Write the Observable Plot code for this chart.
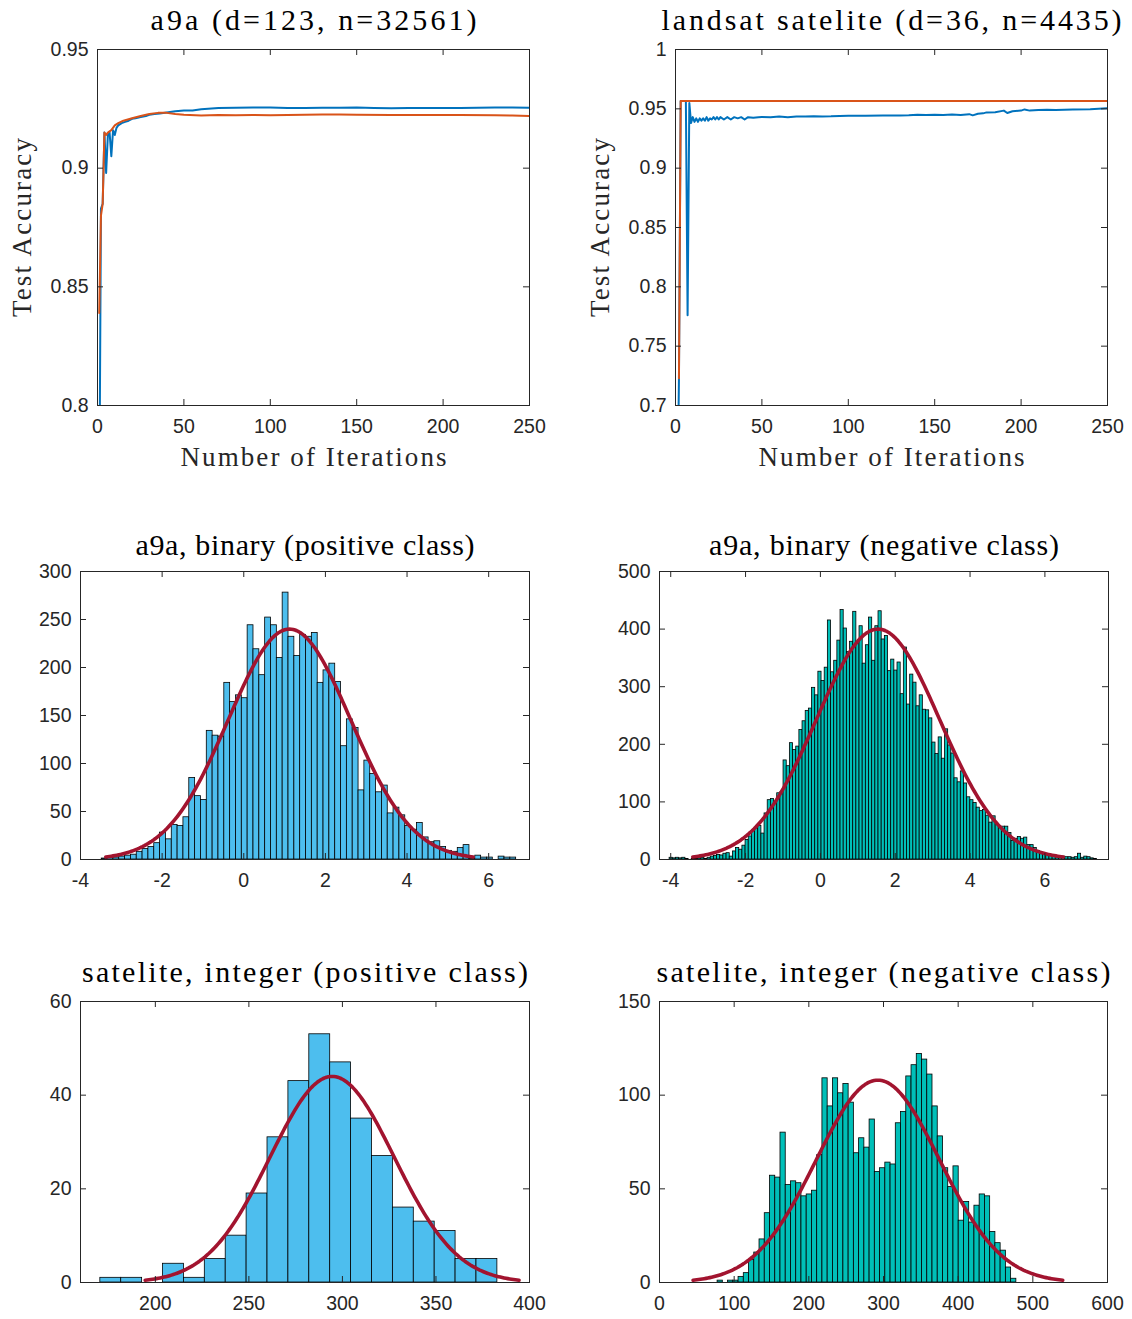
<!DOCTYPE html>
<html><head><meta charset="utf-8">
<script src="https://cdn.jsdelivr.net/npm/d3@7"></script>
<script src="https://cdn.jsdelivr.net/npm/@observablehq/plot@0.6"></script>
<style>
body{margin:0;background:#fff;}
#root{position:relative;width:1132px;height:1319px;background:#fff;overflow:hidden;}
.panel{position:absolute;}
.panel svg{overflow:visible;}
</style></head><body><div id="root"></div>
<script>
// ---------- DATA ----------
// a9a test accuracy
const a9aBlueIter = [1,2,3,4,5,6,7,8,9,10,11,12,14,16,18,20,22,25,28,30,33,36,40,45,50,55,60,70,80,90,100,110,120,130,140,150,160,170,180,190,200,210,220,230,240,250];
const a9aBlueAcc  = [0.75,0.883,0.885,0.915,0.898,0.914,0.915,0.905,0.916,0.914,0.917,0.918,0.919,0.9195,0.920,0.9208,0.921,0.9215,0.922,0.9225,0.9228,0.923,0.9235,0.924,0.9243,0.9243,0.9248,0.9254,0.9255,0.9256,0.9256,0.9254,0.9254,0.9255,0.9255,0.9256,0.9254,0.9252,0.9254,0.9254,0.9254,0.9254,0.9255,0.9256,0.9256,0.9255];
const a9aOrangeIter = [1,2,3,4,5,6,8,10,12,15,20,25,30,35,40,45,50,60,70,80,90,100,110,120,130,140,150,170,190,210,230,240,250];
const a9aOrangeAcc  = [0.839,0.880,0.885,0.915,0.914,0.915,0.916,0.918,0.919,0.920,0.921,0.922,0.9228,0.9233,0.9233,0.9228,0.9225,0.9222,0.9224,0.9223,0.9224,0.9223,0.9224,0.9225,0.9226,0.9226,0.9225,0.9224,0.9224,0.9224,0.9223,0.9222,0.9220];
// landsat test accuracy
const satBlueIter = [1,2,3,4,5,6,7,8,9,10,11,12,13,14,15,16,17,18,19,20,21,22,23,24,25,26,28,30,32,34,36,38,40,42,45,48,50,55,60,65,70,75,80,85,90,95,100,110,120,130,135,140,145,150,155,160,165,170,172,175,178,180,185,190,192,195,200,202,205,210,215,220,230,240,250];
const satBlueAcc  = [0.60,0.723,0.9565,0.9565,0.9565,0.9565,0.776,0.955,0.938,0.943,0.939,0.942,0.939,0.942,0.940,0.942,0.940,0.943,0.940,0.942,0.941,0.943,0.941,0.943,0.941,0.943,0.941,0.943,0.941,0.943,0.942,0.943,0.941,0.943,0.9425,0.943,0.9432,0.943,0.9435,0.943,0.9436,0.9435,0.9437,0.9436,0.9437,0.944,0.9442,0.9442,0.9443,0.9443,0.9445,0.945,0.9447,0.945,0.9448,0.9452,0.9448,0.9455,0.9445,0.9458,0.9462,0.947,0.9472,0.9485,0.9465,0.948,0.9485,0.9495,0.9485,0.949,0.9492,0.949,0.9495,0.9497,0.9505];
const satOrangeIter = [2,3,250];
const satOrangeAcc  = [0.723,0.9565,0.9565];

// histograms: first bin edge, bin width, counts
const a9aPosStart = -3.48, a9aPosWidth = 0.143;
const a9aPosCounts = [1,2,2,3,4,5,8,11,13,17,28,21,36,35,44,85,66,62,134,129,128,184,164,171,168,244,219,192,252,244,210,278,232,212,234,232,236,184,197,204,185,118,146,137,72,103,89,70,77,48,54,46,35,31,38,23,18,19,13,9,8,12,15,1,4,2,2,0,3,2,2];
const a9aNegStart = -4.03, a9aNegWidth = 0.0846;
const a9aNegCounts = [3,2,3,2,3,1,0,1,1,2,3,1,3,5,6,8,7,10,11,5,14,20,17,24,34,40,50,54,58,45,80,103,105,98,115,117,172,162,202,190,196,225,240,258,262,298,285,326,310,333,415,325,345,380,433,401,360,
  378,430,378,405,340,372,420,345,405,431,382,388,327,347,328,342,287,368,269,321,307,266,285,260,259,245,203,183,212,175,226,198,184,141,134,153,132,108,103,98,90,84,86,76,64,75,61,56,57,57,46,32,36,39,36,38,25,25,20,
  15,12,10,8,8,6,5,4,5,4,4,3,4,10,3,5,4,2,1];
const satPosStart = 170.6, satPosWidth = 11.17;
const satPosCounts = [1,1,0,4,1,5,10,19,31,43,53,47,35,27,16,13,11,5,5];
const satNegStart = 77.8, satNegWidth = 7.02;
const satNegCounts = [1,0,1,1,3,5,12,16,23,37,57,56,80,52,54,53,46,47,49,68,109,94,109,101,106,96,69,77,72,87,59,61,64,63,85,91,110,116,122,119,111,94,78,61,51,62,33,43,32,41,47,46,27,21,17,8,2];

// normal fits: [a9a pos, a9a neg, sat pos, sat neg]
const fitMean  = [1.12, 1.54, 294.5, 292.5];
const fitSigma = [1.5, 1.65, 33.3, 82.5];
const fitPeak  = [240, 400, 44, 108];

// tick labels
const iterTicks = [0,50,100,150,200,250];
const a9aAccTicks = [0.8,0.85,0.9,0.95];
const satAccTicks = [0.7,0.75,0.8,0.85,0.9,0.95,1];
const a9aXTicks = [-4,-2,0,2,4,6];
const a9aPosYTicks = [0,50,100,150,200,250,300];
const a9aNegYTicks = [0,100,200,300,400,500];
const satPosXTicks = [200,250,300,350,400];
const satPosYTicks = [0,20,40,60];
const satNegXTicks = [0,100,200,300,400,500,600];
const satNegYTicks = [0,50,100,150];

const titles = ["a9a (d=123, n=32561)", "landsat satelite (d=36, n=4435)",
  "a9a, binary (positive class)", "a9a, binary (negative class)",
  "satelite, integer (positive class)", "satelite, integer (negative class)"];
const xLabel = "Number of Iterations", yLabel = "Test Accuracy";

// ---------- STYLE ----------
const SERIF = "'Liberation Serif','DejaVu Serif',serif";
const SANS = "'Liberation Sans',Arial,sans-serif";
const AXC = "#262626";
const BLUE = "#0072BD", ORANGE = "#D95319", POSFILL = "#4DBEEE", NEGFILL = "#00BFB8", FIT = "#A2142F";
// rendered widths of the LaTeX-set texts (px), to emulate Computer Modern spacing
const textWidths = new Map([
  [titles[0], 326], [titles[1], 460], [titles[2], 339], [titles[3], 350],
  [titles[4], 446], [titles[5], 454], [xLabel, 266], [yLabel, 179]]);

const root = document.getElementById("root");
function place(svg, left, top) {
  const d = document.createElement("div");
  d.className = "panel"; d.style.left = left + "px"; d.style.top = top + "px";
  d.appendChild(svg); root.appendChild(d);
  d3.select(svg).selectAll('g[aria-label="text"] text').each(function() {
    const w = textWidths.get(this.textContent);
    if (w) { this.setAttribute("textLength", w); this.setAttribute("lengthAdjust", "spacing"); }
  });
}

function common(b, xT, yT, title, titleDy) {
  const iw = b.w - b.mL - b.mR, ih = b.h - b.mT - b.mB, L = 6;
  return [
    Plot.frame({stroke: AXC, strokeWidth: 1}),
    Plot.tickX(xT, {x: d => d, insetTop: ih - L, stroke: AXC, strokeWidth: 1}),
    Plot.tickX(xT, {x: d => d, insetBottom: ih - L, stroke: AXC, strokeWidth: 1}),
    Plot.tickY(yT, {y: d => d, insetRight: iw - L, stroke: AXC, strokeWidth: 1}),
    Plot.tickY(yT, {y: d => d, insetLeft: iw - L, stroke: AXC, strokeWidth: 1}),
    Plot.axisX(xT, {tickSize: 0, tickPadding: 14, tickFormat: d => String(d), fontSize: 19.5, fontFamily: SANS, color: AXC, label: null}),
    Plot.axisY(yT, {tickSize: 0, tickPadding: 9, tickFormat: d => String(d), fontSize: 19.5, fontFamily: SANS, color: AXC, label: null}),
    Plot.text([title], {text: d => d, frameAnchor: "top", dy: titleDy, textAnchor: "middle", lineAnchor: "middle", fontSize: 30, fontFamily: SERIF, fill: "#000"})
  ];
}

function linePanel(b, xDom, yDom, yT, series, title, left, top) {
  const svg = Plot.plot({
    width: b.w, height: b.h, marginLeft: b.mL, marginRight: b.mR, marginTop: b.mT, marginBottom: b.mB,
    style: {background: "transparent"},
    x: {domain: xDom}, y: {domain: yDom},
    marks: [
      ...series.map(s => Plot.line(s.iter.map((it, i) => ({x: it, y: s.acc[i]})), {x: "x", y: "y", stroke: s.color, strokeWidth: 2, clip: true})),
      ...common(b, iterTicks, yT, title, -29),
      Plot.text([xLabel], {text: d => d, frameAnchor: "bottom", dy: 52, textAnchor: "middle", lineAnchor: "middle", fontSize: 27, fontFamily: SERIF, fill: AXC}),
      Plot.text([yLabel], {text: d => d, frameAnchor: "left", dx: -75, rotate: -90, textAnchor: "middle", lineAnchor: "middle", fontSize: 27, fontFamily: SERIF, fill: AXC})
    ]
  });
  place(svg, left, top);
}

function histPanel(b, xDom, yDom, xT, yT, start, width, counts, fill, fi, title, titleDy, left, top) {
  const bars = counts.map((c, i) => ({x1: start + i * width, x2: start + (i + 1) * width, y: c}));
  const m = fitMean[fi], s = fitSigma[fi], p = fitPeak[fi];
  const curve = d3.range(0, 201).map(j => {
    const x = m - 3 * s + j * 6 * s / 200;
    return {x, y: p * Math.exp(-((x - m) ** 2) / (2 * s * s))};
  });
  const svg = Plot.plot({
    width: b.w, height: b.h, marginLeft: b.mL, marginRight: b.mR, marginTop: b.mT, marginBottom: b.mB,
    style: {background: "transparent"},
    x: {domain: xDom}, y: {domain: yDom},
    marks: [
      Plot.rectY(bars, {x1: "x1", x2: "x2", y: "y", fill, stroke: "#000", strokeWidth: 0.8, clip: true}),
      Plot.line(curve, {x: "x", y: "y", stroke: FIT, strokeWidth: 3.6}),
      ...common(b, xT, yT, title, titleDy)
    ]
  });
  place(svg, left, top);
}

const bL = {w: 566, h: 490, mL: 97, mR: 37, mT: 49, mB: 85};
const bR = {w: 566, h: 490, mL: 109, mR: 25, mT: 49, mB: 85};
linePanel(bL, [0, 250], [0.8, 0.95], a9aAccTicks, [
  {iter: a9aBlueIter, acc: a9aBlueAcc, color: BLUE},
  {iter: a9aOrangeIter, acc: a9aOrangeAcc, color: ORANGE}], titles[0], 0, 0);
linePanel(bR, [0, 250], [0.7, 1], satAccTicks, [
  {iter: satBlueIter, acc: satBlueAcc, color: BLUE},
  {iter: satOrangeIter, acc: satOrangeAcc, color: ORANGE}], titles[1], 566, 0);

const hL = {w: 566, h: 420, mL: 80, mR: 37, mT: 81, mB: 51};
const hR = {w: 566, h: 420, mL: 93, mR: 24, mT: 81, mB: 51};
histPanel(hL, [-4, 7], [0, 300], a9aXTicks, a9aPosYTicks, a9aPosStart, a9aPosWidth, a9aPosCounts, POSFILL, 0, titles[2], -26, 0, 490);
histPanel(hR, [-4.3, 7.7], [0, 500], a9aXTicks, a9aNegYTicks, a9aNegStart, a9aNegWidth, a9aNegCounts, NEGFILL, 1, titles[3], -26, 566, 490);

const sL = {w: 566, h: 409, mL: 80, mR: 37, mT: 91, mB: 37};
const sR = {w: 566, h: 409, mL: 93, mR: 25, mT: 91, mB: 37};
histPanel(sL, [160, 400], [0, 60], satPosXTicks, satPosYTicks, satPosStart, satPosWidth, satPosCounts, POSFILL, 2, titles[4], -29, 0, 910);
histPanel(sR, [0, 600], [0, 150], satNegXTicks, satNegYTicks, satNegStart, satNegWidth, satNegCounts, NEGFILL, 3, titles[5], -29, 566, 910);
</script></body></html>
